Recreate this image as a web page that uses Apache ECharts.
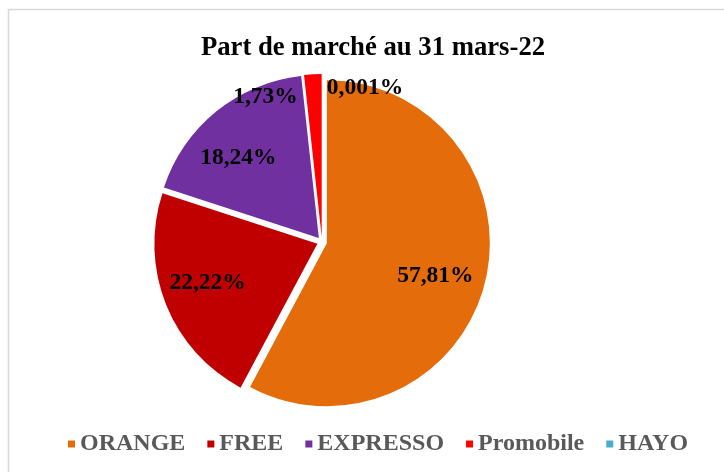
<!DOCTYPE html>
<html>
<head>
<meta charset="utf-8">
<script src="https://cdn.jsdelivr.net/npm/echarts@6/dist/echarts.min.js"></script>
<style>
  html, body { margin: 0; padding: 0; background: #fff; overflow: hidden; }
  #chart { width: 724px; height: 472px; }
</style>
</head>
<body>
<div id="chart"></div>
<script>
// part de marché au 31 mars-22 (%)
const operators = ['ORANGE', 'FREE', 'EXPRESSO', 'Promobile', 'HAYO']
const shares = [57.81, 22.22, 18.24, 1.73, 0.001]
const colors = ['#E46C0A', '#C00000', '#7030A0', '#FF0000', '#4BACC6']

const serif = '"Liberation Serif", "Times New Roman", serif'
const center = [322, 242]

// label nudges (px) to sit where the original put them; the tiny slices push theirs outside
const labelOffsets = [[-3, 5], [-3, -4], [-8, 9], [-50, -25], [43, -34]]

const fmt = (v) => String(v).replace('.', ',') + '%'

const chart = echarts.init(document.getElementById('chart'), null, { renderer: 'canvas' })

chart.setOption({
  animation: false,
  color: colors,
  graphic: [
    {
      type: 'rect',
      shape: { x: 8.5, y: 9.5, width: 800, height: 600 },
      style: { fill: 'none', stroke: '#d9d9d9', lineWidth: 1.5 },
      silent: true,
    },
  ],
  title: {
    text: 'Part de marché au 31 mars-22',
    left: 368,
    top: 30,
    textAlign: 'center',
    textStyle: { fontFamily: serif, fontWeight: 'bold', fontSize: 26.7, color: '#000' },
  },
  legend: {
    data: operators,
    left: 63,
    top: 427,
    icon: 'rect',
    itemWidth: 7,
    itemHeight: 7,
    itemGap: 22,
    selectedMode: false,
    textStyle: { fontFamily: serif, fontWeight: 'bold', fontSize: 24, color: '#595959' },
  },
  series: [
    {
      type: 'pie',
      center: center,
      radius: [0, 163],
      startAngle: 90,
      selectedMode: 'multiple',
      selectedOffset: 5,
      label: { show: false },
      labelLine: { show: false },
      emphasis: { disabled: true },
      data: operators.map((name, i) => ({ name, value: shares[i], selected: true })),
    },
    {
      // transparent twin pie, only used to place the labels further out
      type: 'pie',
      center: center,
      radius: [0, 234],
      startAngle: 90,
      silent: true,
      itemStyle: { color: 'rgba(0,0,0,0)' },
      labelLine: { show: false },
      emphasis: { disabled: true },
      label: {
        show: true,
        position: 'inside',
        formatter: (p) => fmt(p.value),
        fontFamily: serif,
        fontWeight: 'bold',
        fontSize: 23.5,
        color: '#000',
      },
      data: operators.map((name, i) => ({
        name,
        value: shares[i],
        label: { offset: labelOffsets[i] },
      })),
    },
  ],
})
</script>
</body>
</html>
